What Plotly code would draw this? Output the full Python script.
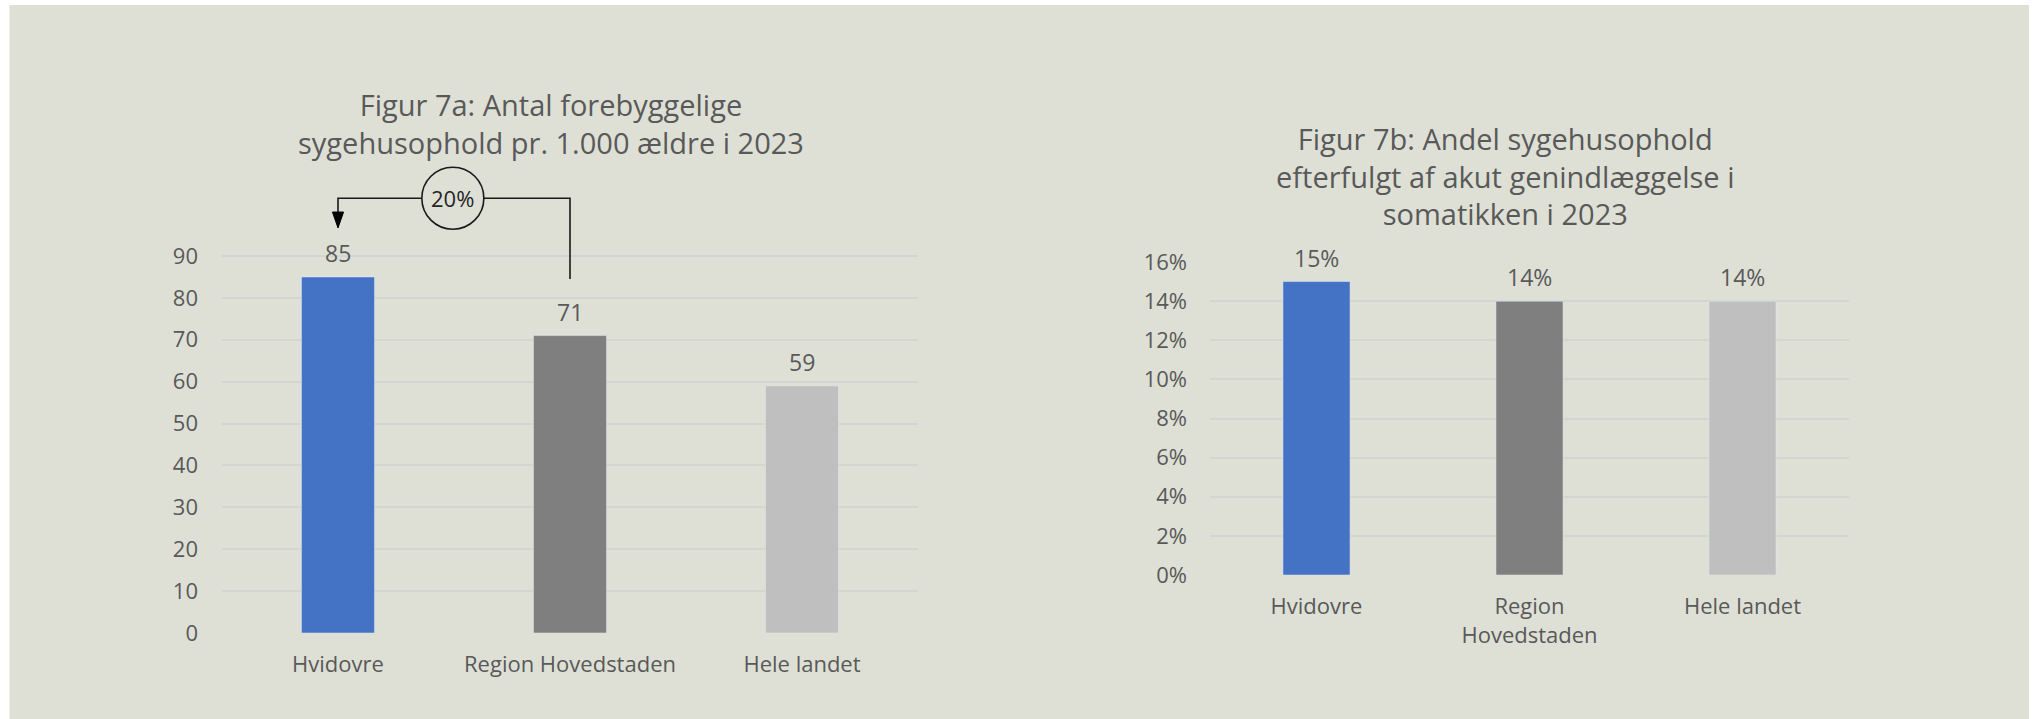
import plotly.graph_objects as go

# ---------------- data ----------------
categories_a = ["Hvidovre", "Region Hovedstaden", "Hele landet"]
values_a = [85, 71, 59]
ticks_a = [0, 10, 20, 30, 40, 50, 60, 70, 80, 90]

categories_b = ["Hvidovre", "Region<br>Hovedstaden", "Hele landet"]
values_b = [0.15, 0.14, 0.14]
ticks_b = [0, 0.02, 0.04, 0.06, 0.08, 0.10, 0.12, 0.14, 0.16]
tick_labels_b = ["0%", "2%", "4%", "6%", "8%", "10%", "12%", "14%", "16%"]

title_a = "Figur 7a: Antal forebyggelige<br>sygehusophold pr. 1.000 ældre i 2023"
title_b = "Figur 7b: Andel sygehusophold<br>efterfulgt af akut genindlæggelse i<br>somatikken i 2023"
diff_label = "20%"

# ---------------- style ----------------
colors = ["#4472C4", "#7F7F7F", "#BFBFBF"]
BG = "#DEE0D6"
GRID = "#D3D5D2"
TXT = "#595959"
FONT = "Open Sans"
W, H = 2035, 719


def py(p):
    """page pixel (from top) -> paper y"""
    return 1 - p / H


def px(p):
    """page pixel (from left) -> paper x"""
    return p / W


fig = go.Figure()
fig.add_trace(go.Bar(x=list(range(3)), y=values_a, marker_color=colors, width=0.315,
                     xaxis="x", yaxis="y", hoverinfo="skip", showlegend=False))
fig.add_trace(go.Bar(x=list(range(3)), y=values_b, marker_color=colors, width=0.315,
                     xaxis="x2", yaxis="y2", hoverinfo="skip", showlegend=False))

# chart A: y range extended upward so the bracket fits inside the plot area
a_y0, a_y90 = 633, 256
a_ppu = (a_y0 - a_y90) / 90.0
a_top_px = 150
a_ymax = (a_y0 - a_top_px) / a_ppu

b_y0, b_y16 = 575, 262

axis_common = dict(showline=False, zeroline=False, ticks="", automargin=False,
                   tickfont=dict(family=FONT, size=22, color=TXT))

fig.update_layout(
    width=W, height=H,
    margin=dict(l=0, r=0, t=0, b=0, pad=0, autoexpand=False),
    paper_bgcolor=BG, plot_bgcolor="rgba(0,0,0,0)",
    showlegend=False,
    xaxis=dict(domain=[px(222), px(918)], range=[-0.5, 2.5],
               tickvals=list(range(3)), ticktext=categories_a, showgrid=False,
               ticklabelstandoff=16, anchor="y", **axis_common),
    yaxis=dict(domain=[py(a_y0), py(a_top_px)], range=[0, a_ymax],
               tickvals=ticks_a, showgrid=True, gridcolor=GRID, gridwidth=2,
               ticklabelstandoff=23, anchor="x", **axis_common),
    xaxis2=dict(domain=[px(1210), px(1849)], range=[-0.5, 2.5],
                tickvals=list(range(3)), ticktext=categories_b, showgrid=False,
                ticklabelstandoff=16, anchor="y2", **axis_common),
    yaxis2=dict(domain=[py(b_y0), py(b_y16)], range=[0, 0.16],
                tickvals=ticks_b, ticktext=tick_labels_b, showgrid=True, gridcolor=GRID,
                gridwidth=2, ticklabelstandoff=22, anchor="x2", **axis_common),
)

annotations = []
# value labels above bars
for i, v in enumerate(values_a):
    annotations.append(dict(x=i, y=v, xref="x", yref="y", text=str(v), showarrow=False,
                            yanchor="middle", yshift=24,
                            font=dict(family=FONT, size=23, color=TXT)))
for i, v in enumerate(values_b):
    annotations.append(dict(x=i, y=v, xref="x2", yref="y2", text=f"{round(v * 100)}%",
                            showarrow=False, yanchor="middle", yshift=24,
                            font=dict(family=FONT, size=23, color=TXT)))

# chart titles
annotations.append(dict(x=px(551), y=py(123), xref="paper", yref="paper", text=title_a,
                        showarrow=False, xanchor="center", yanchor="middle",
                        font=dict(family=FONT, size=29, color=TXT)))
annotations.append(dict(x=px(1505), y=py(176), xref="paper", yref="paper", text=title_b,
                        showarrow=False, xanchor="center", yanchor="middle",
                        font=dict(family=FONT, size=29, color=TXT)))

# bracket between Hvidovre and Region Hovedstaden
bracket_y = values_a[0] + 18.8
arrow_tip = values_a[0] + 11.7
right_end = values_a[1] + 13.5
head_len = 3.8
circle_x = 0.495
shapes = [
    dict(type="path", xref="x", yref="y",
         path=f"M 0,{arrow_tip + head_len - 0.3} L 0,{bracket_y} L 1,{bracket_y} L 1,{right_end}",
         line=dict(color="#1a1a1a", width=1.6), layer="above"),
    dict(type="path", xref="x", yref="y",
         path=f"M -0.024,{arrow_tip + head_len} L 0.024,{arrow_tip + head_len} L 0,{arrow_tip} Z",
         line=dict(color="#000000", width=1), fillcolor="#000000", layer="above"),
    dict(type="circle", xref="x", yref="y", xsizemode="pixel", ysizemode="pixel",
         xanchor=circle_x, yanchor=bracket_y, x0=-31, x1=31, y0=-31, y1=31,
         line=dict(color="#1a1a1a", width=1.6), fillcolor=BG, layer="above"),
]
annotations.append(dict(x=circle_x, y=bracket_y, xref="x", yref="y", text=diff_label,
                        showarrow=False, font=dict(family=FONT, size=22, color="#262626")))

# white frame strips seen at the edges of the reference
white = dict(fillcolor="white", line=dict(width=0), layer="below")
shapes.append(dict(type="rect", xref="paper", yref="paper", x0=0, x1=px(9.5), y0=0, y1=1, **white))
shapes.append(dict(type="rect", xref="paper", yref="paper", x0=0, x1=1, y0=py(5), y1=1, **white))
shapes.append(dict(type="rect", xref="paper", yref="paper", x0=px(2029), x1=1, y0=0, y1=1, **white))

fig.update_layout(annotations=annotations, shapes=shapes)

fig.write_html(
    "out.html",
    config={"displayModeBar": False},
    post_script=(
        "document.body.style.margin='0';"
        "document.body.style.overflow='hidden';"
        "var g=document.getElementById('{plot_id}');"
        "g.style.position='absolute';g.style.left='0px';g.style.top='0px';"
    ),
)
